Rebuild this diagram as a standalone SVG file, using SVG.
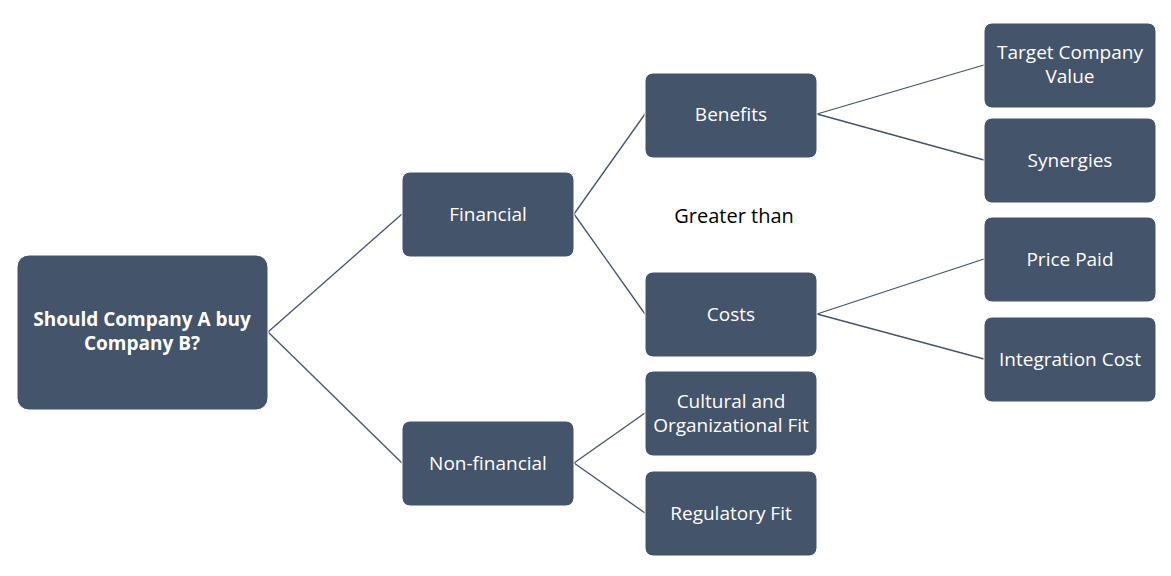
<svg xmlns="http://www.w3.org/2000/svg" width="1171" height="576" viewBox="0 0 1171 576">
<style>
.n{fill:#44546a;stroke:#fff;stroke-width:1}
.t{font-family:"Open Sans","Liberation Sans",sans-serif;font-size:19px;fill:#fff;text-anchor:middle}
.b{font-weight:bold;font-size:19px}
.c line{stroke:#44546a;stroke-width:1.3}
</style>
<rect width="1171" height="576" fill="#fff"/>
<g class="c">
<line x1="268" y1="332" x2="402" y2="214"/>
<line x1="268" y1="332" x2="402" y2="463"/>
<line x1="574" y1="214" x2="645" y2="114"/>
<line x1="574" y1="214" x2="645" y2="314"/>
<line x1="574" y1="463" x2="645" y2="413"/>
<line x1="574" y1="463" x2="645" y2="513"/>
<line x1="817" y1="114" x2="984" y2="65"/>
<line x1="817" y1="114" x2="984" y2="160"/>
<line x1="817" y1="314" x2="984" y2="259"/>
<line x1="817" y1="314" x2="984" y2="359"/>
</g>
<g id="root"><rect class="n" x="17" y="255" width="251" height="155" rx="12"/><text class="t b" x="142" y="326">Should Company A buy</text><text class="t b" x="142" y="350">Company B?</text></g>
<g id="financial"><rect class="n" x="402" y="172" width="172" height="85" rx="8"/><text class="t" x="488" y="221">Financial</text></g>
<g id="nonfinancial"><rect class="n" x="402" y="421" width="172" height="85" rx="8"/><text class="t" x="488" y="470">Non-financial</text></g>
<g id="benefits"><rect class="n" x="645" y="73" width="172" height="85" rx="8"/><text class="t" x="731" y="121">Benefits</text></g>
<g id="costs"><rect class="n" x="645" y="272" width="172" height="85" rx="8"/><text class="t" x="731" y="321">Costs</text></g>
<g id="cultural"><rect class="n" x="645" y="371" width="172" height="85" rx="8"/><text class="t" x="731" y="408">Cultural and</text><text class="t" x="731" y="432">Organizational Fit</text></g>
<g id="regulatory"><rect class="n" x="645" y="471" width="172" height="85" rx="8"/><text class="t" x="731" y="520">Regulatory Fit</text></g>
<g id="target"><rect class="n" x="984" y="23" width="172" height="85" rx="8"/><text class="t" x="1070" y="59">Target Company</text><text class="t" x="1070" y="83">Value</text></g>
<g id="synergies"><rect class="n" x="984" y="118" width="172" height="85" rx="8"/><text class="t" x="1070" y="167">Synergies</text></g>
<g id="price"><rect class="n" x="984" y="217" width="172" height="85" rx="8"/><text class="t" x="1070" y="266">Price Paid</text></g>
<g id="integration"><rect class="n" x="984" y="317" width="172" height="85" rx="8"/><text class="t" x="1070" y="366">Integration Cost</text></g>
<text x="734" y="223" font-family="Open Sans,Liberation Sans,sans-serif" font-size="20" fill="#000" text-anchor="middle">Greater than</text>
</svg>
